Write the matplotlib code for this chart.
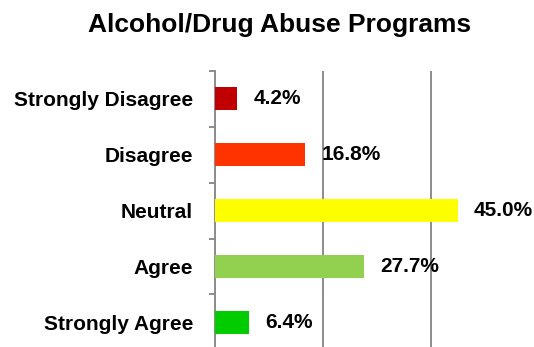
import matplotlib
matplotlib.use("Agg")
import matplotlib.pyplot as plt
import numpy as np

plt.rcParams['font.family'] = ['Liberation Sans', 'DejaVu Sans']

# Survey responses, top row first
categories = ['Strongly Disagree', 'Disagree', 'Neutral', 'Agree', 'Strongly Agree']
percents = [4.2, 16.8, 45.0, 27.7, 6.4]
colors = ['#C00000', '#FF3300', '#FFFF00', '#92D050', '#00CC00']
title = 'Alcohol/Drug Abuse Programs'

fig = plt.figure(figsize=(5.34, 3.47), dpi=100)
ax = fig.add_axes([0.402, -0.0095, 0.607, 0.805])

y = np.arange(len(categories))
ax.barh(y, percents, height=0.41, color=colors, zorder=3)

for yi, p in zip(y, percents):
    ax.annotate(f'{p:.1f}%', xy=(p, yi), xytext=(11.5, 0), textcoords='offset points',
                va='center', ha='left', fontsize=15, fontweight='bold')

ax.set_xlim(0, 60)
ax.set_ylim(len(categories) - 0.5, -0.5)
ax.set_xticks([0, 20, 40, 60])
ax.tick_params(axis='x', length=0, labelbottom=False)
ax.xaxis.grid(True, color='#8c8c8c', linewidth=1.4, zorder=0)

ax.set_yticks(y)
ax.set_yticklabels(categories, fontsize=15, fontweight='bold')
ax.tick_params(axis='y', length=0, pad=15.6)
ax.set_yticks(np.arange(-0.5, len(categories)), minor=True)
ax.tick_params(axis='y', which='minor', length=4, width=1.4, color='#8c8c8c')

for side in ['top', 'right', 'bottom']:
    ax.spines[side].set_visible(False)
ax.spines['left'].set_color('#8c8c8c')
ax.spines['left'].set_linewidth(1.4)

fig.text(0.524, 1 - 31.7 / 347, title, ha='center', va='baseline',
         fontsize=19, fontweight='bold')

fig.savefig('out.png', dpi=100)
